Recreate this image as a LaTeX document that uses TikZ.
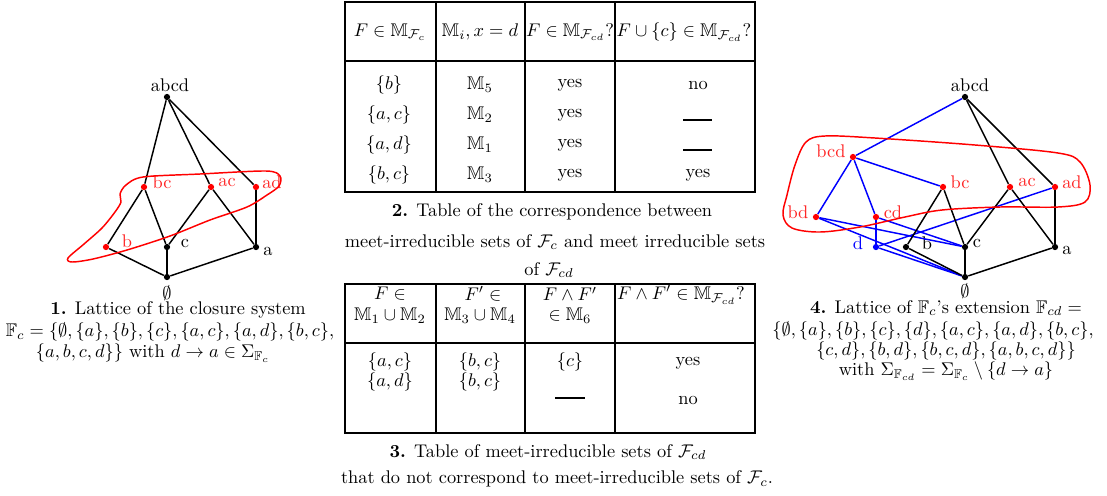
\documentclass[tikz,border=0pt]{standalone}
\usepackage{amssymb}
\begin{document}
\begin{tikzpicture}[x=0.545pt,y=-0.545pt,
  dot/.style={circle,fill,inner sep=0pt,minimum size=3.4pt},
  edge/.style={line width=0.8pt},
  tline/.style={line width=1.1pt},
  lab/.style={inner sep=0pt},
  rlab/.style={inner sep=0pt,text=red!85},
  cell/.style={inner sep=0pt},
  blob/.style={red,line width=0.8pt}]
\useasboundingbox (0,0) rectangle (1107,495);

% ---------- Left lattice ----------
\node[dot] (Labcd) at (167,97) {};
\node[dot,red] (Lbc) at (144,187) {};
\node[dot,red] (Lac) at (211,187) {};
\node[dot,red] (Lad) at (256,187) {};
\node[dot,red] (Lb) at (106,247) {};
\node[dot] (Lc) at (167,247) {};
\node[dot] (La) at (256,247) {};
\node[dot] (L0) at (167,277) {};

\node[lab] (tLabcd) at (170,85) {abcd};
\node[rlab] (tLbc) at (162,182) {bc};
\node[rlab] (tLac) at (227,182) {ac};
\node[rlab] (tLad) at (272,182) {ad};
\node[rlab] (tLb) at (127,241) {b};
\node[lab] (tLc) at (185,243) {c};
\node[lab] (tLa) at (268,251) {a};
\node[lab] (tL0) at (167,293) {$\emptyset$};

\foreach \u/\v in {Labcd/Lbc,Labcd/Lac,Labcd/Lad,Lbc/Lb,Lbc/Lc,Lac/Lc,Lac/La,Lad/La,Lb/L0,Lc/L0,La/L0}
  \draw[edge] (\u) -- (\v);

\draw[blob] plot[smooth cycle,tension=0.5] coordinates {
 (68,258) (84,244) (102,228) (115,212) (121,202) (120,194) (126,185) (143,177)
 (200,174) (266,171) (280,176) (279,186) (267,195) (247,207) (210,220)
 (170,236) (127,250) (93,259) (72,262)};

% ---------- Right lattice ----------
\node[dot] (Rabcd) at (965,97) {};
\node[dot,red] (Rbcd) at (853,157) {};
\node[dot,red] (Rbc) at (943,187) {};
\node[dot,red] (Rac) at (1010,187) {};
\node[dot,red] (Rad) at (1055,187) {};
\node[dot,red] (Rbd) at (816,217) {};
\node[dot,red] (Rcd) at (876,217) {};
\node[dot,blue] (Rd) at (876,247) {};
\node[dot] (Rb) at (906,247) {};
\node[dot] (Rc) at (965,247) {};
\node[dot] (Ra) at (1055,247) {};
\node[dot] (R0) at (965,277) {};

\node[lab] (tRabcd) at (970,85) {abcd};
\node[rlab] (tRbcd) at (831,151) {bcd};
\node[rlab] (tRbc) at (960,182) {bc};
\node[rlab] (tRac) at (1027,182) {ac};
\node[rlab] (tRad) at (1072,182) {ad};
\node[rlab] (tRbd) at (798,212) {bd};
\node[rlab] (tRcd) at (893,212) {cd};
\node[lab,text=blue] (tRd) at (858,243) {d};
\node[lab] (tRb) at (927,243) {b};
\node[lab] (tRc) at (977,243) {c};
\node[lab] (tRa) at (1067,250) {a};
\node[lab] (tR0) at (965,291) {$\emptyset$};

\foreach \u/\v in {Rabcd/Rbcd,Rbcd/Rbc,Rbcd/Rbd,Rbcd/Rcd,Rbd/Rc,Rbd/R0,Rcd/Rd,Rcd/Rc,Rd/R0,Rd/Rad}
  \draw[edge,blue] (\u) -- (\v);
\foreach \u/\v in {Rabcd/Rac,Rabcd/Rad,Rac/Rc,Rac/Ra,Rad/Ra,Rbc/Rb,Rbc/Rc,Rb/R0,Rc/R0,Ra/R0}
  \draw[edge] (\u) -- (\v);

\draw[blob] plot[smooth cycle,tension=0.55] coordinates {
 (806,142) (825,136) (875,138) (975,145) (1058,153) (1080,162) (1090,185)
 (1085,202) (1058,207) (1000,207) (942,210) (905,217) (860,227) (820,232)
 (792,228) (783,215) (787,195) (795,165)};

% ---------- Table 2 ----------
\draw[tline] (345,2) rectangle (755,192);
\foreach \x in {435.7,525,615} \draw[tline] (\x,2) -- (\x,192);
\draw[tline] (345,60.7) -- (755,60.7);

\node[cell] (h21) at (390,32) {$F\in\mathbb{M}_{\mathcal{F}_c}$};
\node[cell] (h22) at (480,32) {$\mathbb{M}_i, x=d$};
\node[cell] (h23) at (570,32) {$F\in\mathbb{M}_{\mathcal{F}_{cd}}?$};
\node[cell] (h24) at (684,32) {$F\cup\{c\}\in\mathbb{M}_{\mathcal{F}_{cd}}?$};

\node[cell] (a11) at (389,85) {$\{b\}$};
\node[cell] (a21) at (389,115) {$\{a,c\}$};
\node[cell] (a31) at (389,145) {$\{a,d\}$};
\node[cell] (a41) at (389,175) {$\{b,c\}$};
\node[cell] (a12) at (480,85) {$\mathbb{M}_5$};
\node[cell] (a22) at (480,115) {$\mathbb{M}_2$};
\node[cell] (a32) at (480,145) {$\mathbb{M}_1$};
\node[cell] (a42) at (480,175) {$\mathbb{M}_3$};
\node[cell] (a13) at (570,85) {yes};
\node[cell] (a23) at (570,115) {yes};
\node[cell] (a33) at (570,145) {yes};
\node[cell] (a43) at (570,175) {yes};
\node[cell] (a14) at (698,85) {no};
\draw[line width=0.9pt] (683,120) -- (712,120);
\draw[line width=0.9pt] (683,150) -- (712,150);
\node[cell] (a44) at (698,175) {yes};

\node[cell] (c21) at (552,212) {\textbf{2.} Table of the correspondence between};
\node[cell] (c22) at (555,242) {meet-irreducible sets of $\mathcal{F}_c$ and meet irreducible sets};
\node[cell] (c23) at (549,270) {of $\mathcal{F}_{cd}$};

% ---------- Table 3 ----------
\draw[tline] (345,284) rectangle (755,433);
\foreach \x in {435.7,525,615} \draw[tline] (\x,284) -- (\x,433);
\draw[tline] (345,343) -- (755,343);

\node[cell] (h31a) at (390,294) {$F\in$};
\node[cell] (h31b) at (390,316) {$\mathbb{M}_1\cup\mathbb{M}_2$};
\node[cell] (h32a) at (483,294) {$F'\in$};
\node[cell] (h32b) at (480,316) {$\mathbb{M}_3\cup\mathbb{M}_4$};
\node[cell] (h33a) at (570,294) {$F\wedge F'$};
\node[cell] (h33b) at (570,316) {$\in\mathbb{M}_6$};
\node[cell] (h34) at (681,295) {$F\wedge F'\in\mathbb{M}_{\mathcal{F}_{cd}}?$};

\node[cell] (b11) at (390,362) {$\{a,c\}$};
\node[cell] (b12) at (480,362) {$\{b,c\}$};
\node[cell] (b13) at (570,362) {$\{c\}$};
\node[cell] (b14) at (688,363) {yes};
\node[cell] (b21) at (390,382) {$\{a,d\}$};
\node[cell] (b22) at (480,382) {$\{b,c\}$};
\draw[line width=0.9pt] (555,398) -- (585,398);
\node[cell] (b24) at (688,400) {no};

\node[cell] (c31) at (548,452) {\textbf{3.} Table of meet-irreducible sets of $\mathcal{F}_{cd}$};
\node[cell] (c32) at (557,479) {that do not correspond to meet-irreducible sets of $\mathcal{F}_c$.};

% ---------- Captions 1 and 4 ----------
\node[cell] (c11) at (178,310) {\textbf{1.} Lattice of the closure system};
\node[cell] (c12) at (170,332) {$\mathbb{F}_c=\{\emptyset,\{a\},\{b\},\{c\},\{a,c\},\{a,d\},\{b,c\},$};
\node[cell] (c13) at (153,353) {$\{a,b,c,d\}\}$ with $d\rightarrow a\in\Sigma_{\mathbb{F}_c}$};

\node[cell] (c41) at (946,308) {\textbf{4.} Lattice of $\mathbb{F}_c$'s extension $\mathbb{F}_{cd}=$};
\node[cell] (c42) at (933,331) {$\{\emptyset,\{a\},\{b\},\{c\},\{d\},\{a,c\},\{a,d\},\{b,c\},$};
\node[cell] (c43) at (946,351) {$\{c,d\},\{b,d\},\{b,c,d\},\{a,b,c,d\}\}$};
\node[cell] (c44) at (946,371) {with $\Sigma_{\mathbb{F}_{cd}}=\Sigma_{\mathbb{F}_c}\setminus\{d\rightarrow a\}$};
\end{tikzpicture}
\end{document}
